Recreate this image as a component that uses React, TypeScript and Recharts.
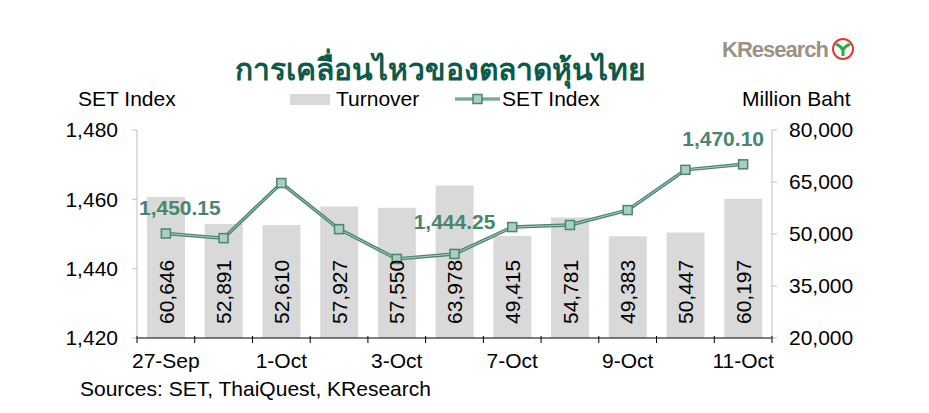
import React from 'react';
import { ComposedChart, Bar, Line, XAxis, YAxis, LabelList } from 'recharts';

// trading days shown on the x axis
const dates = ['27-Sep', '30-Sep', '1-Oct', '2-Oct', '3-Oct', '4-Oct', '7-Oct', '8-Oct', '9-Oct', '10-Oct', '11-Oct'];
// turnover, million baht
const turnover = [60646, 52891, 52610, 57927, 57550, 63978, 49415, 54781, 49383, 50447, 60197];
// SET index close
const setIndex = [1450.15, 1448.8, 1464.7, 1451.4, 1442.8, 1444.25, 1452.0, 1452.6, 1456.9, 1468.5, 1470.1];
const leftTicks = [1420, 1440, 1460, 1480];
const rightTicks = [20000, 35000, 50000, 65000, 80000];

const data = dates.map((d, i) => ({ date: d, turnover: turnover[i], set: setIndex[i] }));

const FONT = '"Liberation Sans", Arial, sans-serif';
const FS = 21;
const GREEN = '#4b8470';
const fmt = (v: number) => v.toLocaleString('en-US');

// highlighted index values: first, 4-Oct and last point
const callouts: Record<number, { dx: number; dy: number }> = {
	0: { dx: 14, dy: -26 },
	5: { dx: 0, dy: -32 },
	10: { dx: -20, dy: -26 },
};

const SetLabel = (props: any) => {
	const { x, y, index, value } = props;
	const c = callouts[index];
	if (!c) return null;
	return (
		<text x={x + c.dx} y={y + c.dy} textAnchor="middle" dominantBaseline="central"
			fontFamily={FONT} fontSize={21} fontWeight="bold" fill={GREEN}>
			{value.toFixed(2).replace(/\B(?=(\d{3})+(?!\d))/, ',')}
		</text>
	);
};

const BarValue = (props: any) => {
	const { x, width, value } = props;
	const cx = x + width / 2;
	const by = 324;
	return (
		<text x={cx} y={by} transform={`rotate(-90 ${cx} ${by})`} textAnchor="start" dominantBaseline="central"
			fontFamily={FONT} fontSize={FS} fill="#000">
			{fmt(value)}
		</text>
	);
};

const SquareDot = (props: any) => {
	const { cx, cy } = props;
	return <rect x={cx - 4.5} y={cy - 4.5} width={9} height={9} fill="#a9cfc0" stroke={GREEN} strokeWidth={1.5} />;
};

const DateTick = (props: any) => {
	const { x, y, payload, index } = props;
	const half = payload?.offset || 28.9;
	return (
		<g>
			<line x1={x - half} y1={y - 8} x2={x - half} y2={y - 1} stroke="#000" />
			{index === dates.length - 1 && <line x1={x + half} y1={y - 8} x2={x + half} y2={y - 1} stroke="#000" />}
			{index % 2 === 0 && (
				<text x={x} y={y + 24} textAnchor="middle" fontFamily={FONT} fontSize={FS} fill="#000">{payload.value}</text>
			)}
		</g>
	);
};

export default function App() {
	return (
		<div style={{ position: 'absolute', left: 0, top: 0, width: 929, height: 413, background: '#fff', fontFamily: FONT }}>
			<svg width={929} height={413} style={{ position: 'absolute', left: 0, top: 0 }}>
				<text x={440} y={80} textAnchor="middle" fontFamily='"Noto Sans", "DejaVu Sans", sans-serif' fontSize={30} fontWeight="bold" fill="#0b5a4a">
					การเคลื่อนไหวของตลาดหุ้นไทย
				</text>
				<text x={722} y={57} fontFamily={FONT} fontSize={22} fontWeight="bold" fill="#9b9285" letterSpacing={-1}>KResearch</text>
				<circle cx={843} cy={49} r={10} fill="#fff" stroke="#e23b2e" strokeWidth={2} />
				<path d="M843 56 L843 49 M843 50 C840 45 837 45 836 44 M843 50 C846 45 849 45 850 44" stroke="#2aa84a" strokeWidth={3} fill="none" />
				<text x={78} y={106} fontFamily={FONT} fontSize={FS} fill="#000">SET Index</text>
				<rect x={290} y={94} width={40} height={11} fill="#d9d9d9" />
				<text x={336} y={106} fontFamily={FONT} fontSize={FS} fill="#000">Turnover</text>
				<line x1={455} y1={99} x2={500} y2={99} stroke={GREEN} strokeWidth={3} />
				<line x1={455} y1={99} x2={500} y2={99} stroke="#a9cfc0" strokeWidth={1} />
				<rect x={473} y={94.5} width={9} height={9} fill="#a9cfc0" stroke={GREEN} strokeWidth={1.5} />
				<text x={502} y={106} fontFamily={FONT} fontSize={FS} fill="#000">SET Index</text>
				<text x={742} y={106} fontFamily={FONT} fontSize={FS} fill="#000">Million Baht</text>
				<text x={80} y={396} fontFamily={FONT} fontSize={FS} fill="#000">Sources: SET, ThaiQuest, KResearch</text>
			</svg>
			<div style={{ position: 'absolute', left: 0, top: 0 }}>
				<ComposedChart width={929} height={413} data={data} margin={{ top: 130, right: 0, bottom: 0, left: 0 }}>
					<XAxis dataKey="date" xAxisId="x" height={75} interval={0} tickLine={false}
						axisLine={{ stroke: '#000' }} tick={<DateTick />} tickMargin={0} />
					<YAxis yAxisId="left" width={137} domain={[1420, 1480]} ticks={leftTicks} tickFormatter={fmt}
						axisLine={{ stroke: '#bfbfbf' }} tickLine={{ stroke: '#bfbfbf' }} tickSize={5} tickMargin={14}
						tick={{ fontFamily: FONT, fontSize: FS, fill: '#000' }} allowDataOverflow />
					<YAxis yAxisId="right" orientation="right" width={157} domain={[20000, 80000]} ticks={rightTicks} tickFormatter={fmt}
						axisLine={{ stroke: '#bfbfbf' }} tickLine={{ stroke: '#bfbfbf' }} tickSize={5} tickMargin={12}
						tick={{ fontFamily: FONT, fontSize: FS, fill: '#000', textAnchor: 'start' }} allowDataOverflow />
					<Bar xAxisId="x" yAxisId="right" dataKey="turnover" fill="#d9d9d9" barSize={38} isAnimationActive={false}>
						<LabelList dataKey="turnover" content={<BarValue />} />
					</Bar>
					<Line xAxisId="x" yAxisId="left" dataKey="set" stroke={GREEN} strokeWidth={3.5} dot={false} activeDot={false} isAnimationActive={false} />
					<Line xAxisId="x" yAxisId="left" dataKey="set" stroke="#a9cfc0" strokeWidth={1} dot={<SquareDot />} activeDot={false} isAnimationActive={false}>
						<LabelList dataKey="set" content={<SetLabel />} />
					</Line>
				</ComposedChart>
			</div>
		</div>
	);
}
